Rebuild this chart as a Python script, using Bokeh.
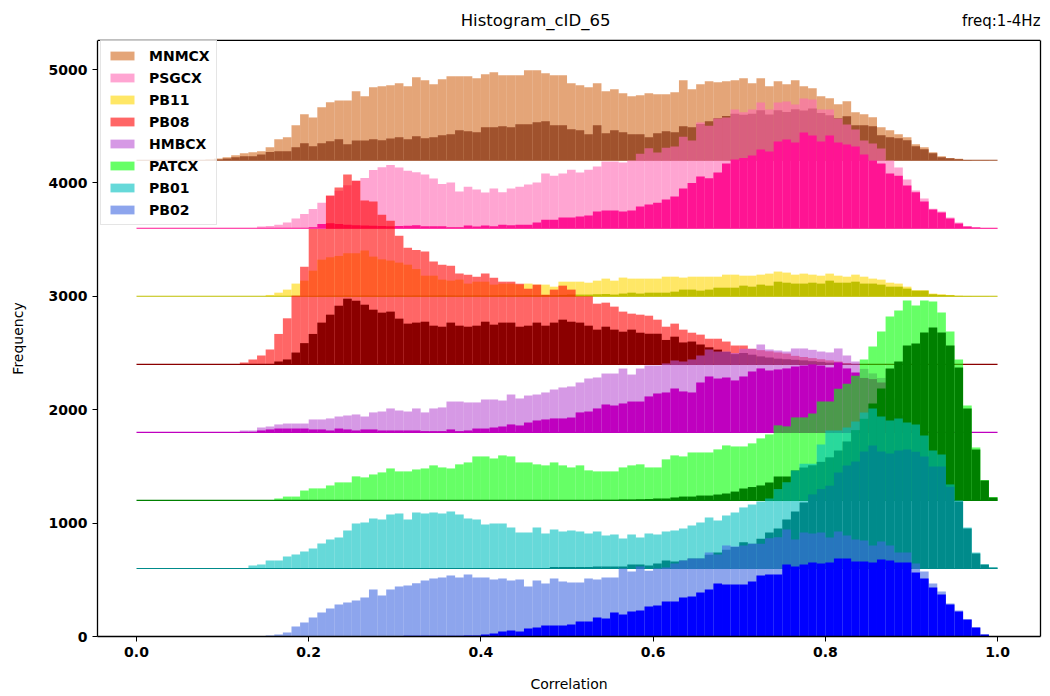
import numpy as np
from bokeh.plotting import figure
from bokeh.models import Range1d, FixedTicker, Label, Legend, LegendItem, LinearAxis
from bokeh.embed import file_html
from bokeh.resources import INLINE

# ---------------- data (counts per 0.01 bin, 0.00 .. 1.00) ----------------
series_names = ["MNMCX", "PSGCX", "PB11", "PB08", "HMBCX", "PATCX", "PB01", "PB02"]
offsets = [4200, 3600, 3000, 2400, 1800, 1200, 600, 0]
light_colors = ["#d2691e", "#ff69b4", "#ffd700", "#ff0000", "#ba55d3", "#00ff00", "#00bfbf", "#4169e1"]
dark_colors = ["#a0522d", "#ff1493", "#bfbf00", "#8b0000", "#bf00bf", "#008000", "#008b8b", "#0000ff"]
n_bins = 100

mnmcx_light = [0, 0, 0, 0, 0, 0, 0, 3, 8, 15, 26, 44, 62, 70, 80, 115, 185, 203, 309, 406,
               376, 467, 512, 526, 526, 609, 565, 644, 653, 661, 679, 653, 732, 706, 670, 714, 741, 741, 741, 723,
               758, 776, 750, 750, 750, 794, 794, 767, 750, 750, 679, 661, 644, 679, 609, 626, 591, 565, 573, 591,
               582, 582, 600, 706, 626, 670, 697, 688, 697, 706, 723, 679, 723, 653, 697, 670, 706, 653, 635, 565,
               547, 494, 520, 423, 406, 379, 291, 265, 229, 203, 141, 115, 70, 35, 18, 12, 3, 1, 1, 0]
mnmcx_dark = [0, 0, 0, 0, 0, 0, 0, 0, 0, 6, 15, 26, 35, 35, 50, 73, 80, 80, 115, 150,
              123, 150, 168, 185, 141, 173, 173, 185, 176, 191, 203, 185, 212, 194, 203, 220, 229, 265, 256, 247,
              291, 291, 300, 291, 318, 318, 335, 344, 309, 309, 273, 265, 229, 309, 238, 265, 247, 229, 229, 203,
              238, 256, 247, 300, 291, 320, 344, 370, 390, 410, 400, 409, 440, 403, 441, 426, 450, 438, 455, 417,
              397, 370, 388, 309, 309, 300, 220, 203, 194, 176, 123, 97, 62, 26, 18, 9, 3, 0, 0, 0]
psgcx_light = [0, 0, 0, 0, 0, 0, 0, 0, 0, 0, 0, 0, 0, 0, 15, 21, 32, 50, 85, 126,
               170, 226, 285, 330, 380, 420, 444, 514, 538, 558, 535, 508, 494, 473, 438, 391, 403, 325, 367, 341,
               315, 350, 318, 350, 367, 385, 403, 482, 464, 482, 517, 491, 517, 544, 588, 588, 579, 597, 656, 706,
               667, 711, 720, 808, 773, 932, 905, 967, 976, 1047, 1023, 1047, 1108, 1047, 1108, 1117, 1091, 1144, 1135, 1047,
               1047, 967, 914, 870, 773, 747, 703, 597, 535, 429, 332, 262, 173, 147, 94, 50, 18, 6, 3, 2]
psgcx_dark = [0, 0, 0, 0, 0, 0, 0, 0, 0, 0, 0, 0, 0, 0, 0, 0, 0, 0, 0, 0,
              10, 38, 44, 38, 32, 26, 24, 22, 20, 18, 20, 22, 26, 18, 18, 18, 8, 9, 24, 15,
              24, 18, 32, 26, 32, 32, 50, 76, 76, 94, 94, 103, 112, 147, 156, 156, 147, 156, 191, 209,
              226, 253, 279, 350, 400, 456, 441, 491, 570, 606, 620, 641, 694, 676, 764, 782, 756, 844, 817, 764,
              817, 756, 738, 720, 650, 597, 570, 482, 464, 376, 318, 235, 165, 138, 85, 41, 15, 6, 3, 2]
pb11_light = [0, 0, 0, 0, 0, 0, 0, 0, 0, 0, 0, 0, 0, 0, 0, 12, 32, 59, 112, 138,
              226, 323, 344, 356, 379, 379, 403, 350, 326, 315, 297, 279, 240, 182, 182, 147, 138, 147, 112, 129,
              129, 103, 112, 112, 103, 112, 103, 103, 85, 129, 129, 129, 120, 138, 156, 138, 165, 156, 156, 156,
              156, 173, 173, 165, 173, 173, 173, 173, 191, 191, 182, 182, 191, 200, 218, 209, 191, 200, 191, 182,
              200, 182, 173, 191, 173, 156, 147, 120, 112, 85, 53, 53, 24, 18, 12, 5, 3, 2, 1, 1]
pb11_dark = [0, 0, 0, 0, 0, 0, 0, 0, 0, 0, 0, 0, 0, 0, 0, 0, 0, 0, 0, 0,
             3, 4, 5, 5, 6, 5, 6, 5, 4, 5, 6, 5, 6, 5, 6, 7, 6, 5, 6, 7,
             6, 7, 8, 7, 8, 9, 8, 10, 9, 12, 15, 15, 15, 18, 20, 15, 24, 32, 24, 32,
             32, 32, 41, 59, 59, 50, 59, 76, 76, 76, 94, 85, 103, 94, 129, 120, 112, 112, 120, 112,
             138, 120, 120, 129, 112, 112, 103, 85, 85, 68, 50, 50, 18, 12, 9, 3, 2, 1, 1, 0]
pb08_light = [0, 0, 0, 0, 0, 0, 0, 0, 0, 0, 0, 0, 16, 43, 78, 131, 268, 406, 606, 861,
              1194, 1194, 1488, 1560, 1673, 1620, 1444, 1435, 1320, 1267, 1135, 1029, 1008, 994, 906, 879, 870, 800, 791, 773,
              800, 764, 729, 729, 711, 667, 703, 614, 659, 694, 659, 600, 600, 535, 544, 509, 465, 447, 438, 429,
              394, 332, 359, 306, 279, 262, 226, 226, 201, 166, 166, 137, 125, 115, 105, 95, 75, 65, 55, 45,
              35, 25, 12, 0, 0, 0, 0, 0, 0, 0, 0, 0, 0, 0, 0, 0, 0, 0, 0, 0]
pb08_dark = [0, 0, 0, 0, 0, 0, 0, 0, 0, 0, 0, 0, 0, 0, 0, 0, 25, 43, 104, 187,
             268, 368, 438, 517, 579, 561, 526, 482, 456, 465, 403, 359, 368, 376, 341, 332, 368, 341, 332, 341,
             376, 350, 368, 368, 332, 341, 368, 341, 368, 394, 376, 368, 341, 306, 332, 306, 288, 306, 279, 270,
             270, 215, 244, 193, 201, 175, 150, 130, 110, 90, 100, 85, 70, 60, 50, 45, 40, 35, 28, 22,
             15, 10, 5, 0, 0, 0, 0, 0, 0, 0, 0, 0, 0, 0, 0, 0, 0, 0, 0, 0]
hmbcx_light = [0, 0, 0, 0, 0, 0, 0, 0, 0, 0, 0, 0, 17, 17, 43, 52, 70, 78, 78, 78,
               114, 114, 123, 140, 149, 158, 140, 176, 184, 211, 193, 184, 211, 176, 211, 220, 272, 272, 264, 264,
               290, 290, 281, 334, 299, 325, 334, 352, 378, 396, 405, 440, 475, 484, 519, 519, 563, 510, 563, 590,
               590, 608, 634, 625, 643, 678, 731, 713, 713, 700, 737, 737, 775, 731, 722, 713, 740, 740, 728, 713,
               705, 740, 678, 625, 560, 520, 480, 300, 150, 60, 20, 8, 3, 0, 0, 0, 0, 0, 0, 0]
hmbcx_dark = [0, 0, 0, 0, 0, 0, 0, 0, 0, 0, 0, 0, 0, 0, 17, 26, 34, 34, 34, 34,
              26, 26, 17, 34, 26, 17, 26, 26, 17, 17, 17, 17, 17, 11, 11, 11, 26, 11, 17, 34,
              34, 43, 52, 70, 61, 87, 105, 114, 123, 123, 131, 176, 184, 211, 246, 237, 255, 272, 272, 317,
              343, 352, 387, 361, 352, 440, 493, 475, 484, 458, 493, 537, 564, 546, 555, 564, 581, 590, 599, 590,
              573, 617, 564, 528, 480, 470, 440, 300, 150, 60, 20, 5, 0, 0, 0, 0, 0, 0, 0, 0]
patcx_light = [0, 0, 0, 0, 0, 0, 0, 0, 0, 0, 0, 0, 0, 0, 0, 0, 17, 34, 34, 87,
               106, 106, 132, 159, 159, 212, 203, 229, 247, 282, 256, 256, 273, 282, 309, 291, 282, 318, 335, 388,
               388, 370, 397, 388, 335, 335, 318, 309, 335, 309, 291, 309, 265, 256, 256, 256, 291, 309, 318, 291,
               291, 362, 397, 388, 423, 423, 423, 450, 485, 476, 476, 503, 547, 582, 662, 653, 732, 732, 767, 873,
               873, 985, 1029, 1100, 1243, 1357, 1490, 1622, 1675, 1763, 1719, 1763, 1754, 1657, 1490, 1243, 837, 467, 180, 30]
patcx_dark = [0, 0, 0, 0, 0, 0, 0, 0, 0, 0, 0, 0, 0, 0, 0, 0, 0, 0, 0, 0,
              0, 0, 0, 0, 0, 0, 0, 0, 0, 0, 0, 0, 0, 0, 0, 0, 0, 0, 0, 0,
              0, 0, 0, 0, 0, 0, 0, 0, 0, 0, 0, 0, 3, 5, 5, 5, 8, 8, 10, 12,
              17, 17, 26, 34, 34, 43, 43, 52, 61, 78, 105, 118, 132, 158, 211, 211, 264, 290, 310, 340,
              380, 440, 520, 620, 720, 855, 987, 1163, 1225, 1366, 1384, 1481, 1525, 1481, 1366, 1172, 811, 449, 176, 26]
pb01_light = [0, 0, 0, 0, 0, 0, 0, 0, 0, 0, 0, 0, 0, 26, 35, 71, 71, 106, 123, 150,
              176, 221, 256, 273, 335, 397, 406, 441, 432, 476, 485, 432, 494, 485, 494, 485, 503, 476, 441, 432,
              388, 397, 397, 362, 318, 318, 362, 309, 344, 326, 335, 326, 309, 326, 291, 300, 265, 300, 273, 309,
              300, 326, 335, 353, 379, 406, 450, 423, 467, 494, 538, 564, 591, 617, 700, 760, 864, 923, 923, 1094,
              1217, 1217, 1244, 1297, 1376, 1411, 1341, 1305, 1323, 1288, 1270, 1173, 1041, 1005, 741, 600, 362, 141, 35, 9]
pb01_dark = [0, 0, 0, 0, 0, 0, 0, 0, 0, 0, 0, 0, 0, 0, 0, 0, 0, 0, 0, 0,
             0, 0, 0, 0, 0, 0, 0, 0, 0, 0, 0, 0, 0, 0, 0, 0, 0, 0, 0, 0,
             0, 0, 0, 0, 0, 0, 0, 0, 12, 12, 12, 12, 12, 18, 18, 18, 18, 35, 35, 26,
             44, 71, 62, 71, 88, 88, 120, 140, 165, 190, 232, 218, 262, 318, 353, 432, 503, 582, 653, 700,
             730, 847, 908, 944, 1032, 1085, 1032, 1014, 1041, 1050, 1030, 988, 900, 900, 720, 591, 353, 132, 35, 9]
pb02_light = [0, 0, 0, 0, 0, 0, 0, 0, 0, 0, 0, 0, 0, 0, 0, 9, 18, 35, 88, 123,
              168, 212, 247, 282, 300, 318, 344, 415, 362, 415, 441, 450, 470, 494, 512, 520, 538, 520, 547, 520,
              520, 503, 512, 494, 503, 441, 494, 467, 512, 485, 476, 476, 512, 503, 520, 520, 600, 573, 617, 579,
              600, 608, 644, 670, 688, 688, 741, 723, 803, 794, 803, 817, 817, 867, 876, 944, 855, 917, 908, 917,
              873, 926, 891, 855, 847, 803, 838, 803, 741, 741, 644, 573, 467, 397, 291, 229, 150, 79, 18, 3]
pb02_dark = [0, 0, 0, 0, 0, 0, 0, 0, 0, 0, 0, 0, 0, 0, 0, 2, 2, 3, 3, 2,
             3, 4, 3, 4, 3, 5, 4, 5, 4, 5, 5, 6, 6, 6, 6, 6, 6, 6, 9, 9,
             18, 26, 44, 53, 44, 71, 79, 97, 97, 97, 106, 132, 132, 168, 159, 212, 194, 220, 229, 265,
             273, 309, 309, 344, 353, 388, 415, 467, 459, 459, 459, 485, 538, 547, 547, 635, 617, 635, 653, 644,
             653, 688, 688, 662, 662, 653, 679, 670, 653, 653, 564, 512, 432, 370, 282, 220, 150, 79, 18, 3]

light_counts = [mnmcx_light, psgcx_light, pb11_light, pb08_light, hmbcx_light, patcx_light, pb01_light, pb02_light]
dark_counts = [mnmcx_dark, psgcx_dark, pb11_dark, pb08_dark, hmbcx_dark, patcx_dark, pb01_dark, pb02_dark]

x_ticks = [0.0, 0.2, 0.4, 0.6, 0.8, 1.0]
y_ticks = [0, 1000, 2000, 3000, 4000, 5000]
title_text = "Histogram_cID_65"
freq_text = "freq:1-4Hz"
x_label = "Correlation"
y_label = "Frequency"

# ---------------- figure ----------------
FONT = "DejaVu Sans"
W, H = 1050, 696
ML, MR, MB = 97, 10, 60            # frame: x 97..1040, bottom at 636, extends to canvas top
X0, X1 = -0.0453, 1.0499
PX_PER_X = 861.0                   # horizontal pixels per unit correlation
PX_PER_UNIT = 567.0 / 5000.0       # vertical pixels per count
Y_AX_TOP = 5256                    # data value at the top spine
Y_MAX = (H - MB) / PX_PER_UNIT     # frame reaches canvas top (room for the titles)

p = figure(width=W, height=H, output_backend="svg", toolbar_location=None,
           x_range=Range1d(X0, X1), y_range=Range1d(0, Y_MAX),
           min_border_left=ML, min_border_right=MR, min_border_top=0, min_border_bottom=MB)
p.background_fill_color = "white"
p.border_fill_color = "white"
p.xgrid.visible = False
p.ygrid.visible = False
p.outline_line_color = None

edges = np.linspace(0.0, 1.0, n_bins + 1)
left = edges[:-1]
right = edges[1:]

legend_items = []
for name, base, lc, dc, lvals, dvals in zip(series_names, offsets, light_colors, dark_colors,
                                            light_counts, dark_counts):
    lv = np.array(lvals, dtype=float)
    dv = np.array(dvals, dtype=float)
    r_light = p.quad(left=left, right=right, bottom=base, top=base + lv,
                     fill_color=lc, fill_alpha=0.6, line_color=None)
    p.segment(x0=[edges[0]], y0=[base], x1=[edges[-1]], y1=[base], line_color=dc, line_width=1.1)
    p.quad(left=left, right=right, bottom=base, top=base + dv,
           fill_color=dc, fill_alpha=1.0, line_color=None)
    legend_items.append(LegendItem(label=name, renderers=[r_light]))

# top spine
p.segment(x0=[X0], y0=[Y_AX_TOP], x1=[X1], y1=[Y_AX_TOP], line_color="black", line_width=1.3)

legend = Legend(items=legend_items, location=(3, 636 - 225))
legend.label_text_font = FONT
legend.label_text_font_style = "bold"
legend.label_text_font_size = "14px"
legend.label_text_color = "black"
legend.glyph_width = 30
legend.glyph_height = 11
legend.label_standoff = 12
legend.label_height = 17
legend.spacing = 5
legend.padding = 6
legend.margin = 0
legend.border_line_color = "#cccccc"
legend.border_line_width = 1
legend.background_fill_color = "white"
legend.background_fill_alpha = 0.8
p.add_layout(legend)

# right spine as an empty axis
r_axis = LinearAxis(ticker=FixedTicker(ticks=[]), major_label_text_font_size="0px",
                    bounds=(0, Y_AX_TOP), major_tick_out=0, major_tick_in=0,
                    minor_tick_out=0, minor_tick_in=0, axis_line_color="black", axis_line_width=1.3)
p.add_layout(r_axis, "right")

for ax in (p.xaxis[0], p.yaxis[0]):
    ax.axis_line_color = "black"
    ax.axis_line_width = 1.3
    ax.major_tick_line_color = "black"
    ax.major_tick_line_width = 1
    ax.major_tick_out = 5
    ax.major_tick_in = 0
    ax.minor_tick_out = 0
    ax.minor_tick_in = 0
    ax.major_label_text_font = FONT
    ax.major_label_text_font_style = "bold"
    ax.major_label_text_font_size = "14px"
    ax.major_label_text_color = "black"
    ax.major_label_standoff = 5
    ax.axis_label_text_font = FONT
    ax.axis_label_text_font_style = "normal"
    ax.axis_label_text_font_size = "14px"
    ax.axis_label_text_color = "black"

p.xaxis[0].ticker = FixedTicker(ticks=x_ticks)
p.xaxis[0].major_label_overrides = {t: f"{t:.1f}" for t in x_ticks}
p.yaxis[0].ticker = FixedTicker(ticks=y_ticks)
p.yaxis[0].major_label_overrides = {t: str(t) for t in y_ticks}
p.yaxis[0].bounds = (0, Y_AX_TOP)
p.xaxis[0].axis_label = x_label
p.xaxis[0].axis_label_standoff = 16

# y-axis label, centred on the visible axis (0 .. top spine), placed in the left panel
ylab = Label(x=X0 - (97 - 18) / PX_PER_X, y=Y_AX_TOP / 2.0, text=y_label, angle=np.pi / 2,
             text_align="center", text_baseline="middle", text_font=FONT,
             text_font_size="14px", text_color="black")
p.add_layout(ylab, "left")

title_y = (H - MB - 20) / PX_PER_UNIT
p.add_layout(Label(x=(535 - 136) / PX_PER_X, y=title_y, text=title_text, text_align="center",
                   text_baseline="middle", text_font=FONT, text_font_size="16.5px", text_color="black"))
p.add_layout(Label(x=X1, y=title_y, text=freq_text, text_align="right", text_baseline="middle",
                   text_font=FONT, text_font_size="15px", text_color="black"))

open("out.html", "w").write(file_html(p, INLINE))
